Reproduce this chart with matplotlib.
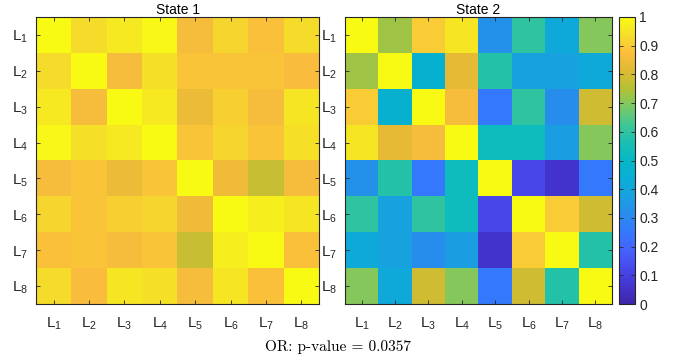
import numpy as np
import matplotlib
matplotlib.use("Agg")
import matplotlib.pyplot as plt
from matplotlib.colors import LinearSegmentedColormap

# labels and values
labels = [r'$\mathregular{L_%d}$' % i for i in range(1, 9)]

state1 = [
    [1.00, 0.93, 0.96, 0.99, 0.86, 0.92, 0.88, 0.93],
    [0.93, 1.00, 0.86, 0.94, 0.89, 0.89, 0.89, 0.87],
    [0.96, 0.86, 1.00, 0.96, 0.84, 0.91, 0.86, 0.95],
    [0.99, 0.94, 0.96, 1.00, 0.89, 0.92, 0.89, 0.94],
    [0.86, 0.89, 0.84, 0.89, 1.00, 0.85, 0.78, 0.86],
    [0.92, 0.89, 0.91, 0.92, 0.85, 1.00, 0.97, 0.95],
    [0.88, 0.89, 0.86, 0.89, 0.78, 0.97, 1.00, 0.88],
    [0.93, 0.87, 0.95, 0.94, 0.86, 0.95, 0.88, 1.00],
]

state2 = [
    [1.00, 0.73, 0.90, 0.95, 0.33, 0.60, 0.42, 0.70],
    [0.73, 1.00, 0.46, 0.83, 0.58, 0.38, 0.38, 0.42],
    [0.90, 0.46, 1.00, 0.86, 0.25, 0.60, 0.32, 0.79],
    [0.95, 0.83, 0.86, 1.00, 0.53, 0.53, 0.37, 0.70],
    [0.33, 0.58, 0.25, 0.53, 1.00, 0.12, 0.06, 0.25],
    [0.60, 0.38, 0.60, 0.53, 0.12, 1.00, 0.90, 0.79],
    [0.42, 0.38, 0.32, 0.37, 0.06, 0.90, 1.00, 0.58],
    [0.70, 0.42, 0.79, 0.70, 0.25, 0.79, 0.58, 1.00],
]

titles = ['State 1', 'State 2']
cbar_ticks = [0, 0.1, 0.2, 0.3, 0.4, 0.5, 0.6, 0.7, 0.8, 0.9, 1]
cbar_labels = ['0', '0.1', '0.2', '0.3', '0.4', '0.5', '0.6', '0.7', '0.8', '0.9', '1']
pval_text = 'OR: p-value = 0.0357'

# parula-like colormap
parula_pts = [
    (0.2422, 0.1504, 0.6603), (0.2676, 0.2052, 0.8148), (0.2809, 0.2875, 0.9305),
    (0.2710, 0.3860, 0.9898), (0.2066, 0.4743, 0.9926), (0.1600, 0.5500, 0.9300),
    (0.1000, 0.6300, 0.8800), (0.0400, 0.6800, 0.8400), (0.0200, 0.7200, 0.7800),
    (0.1000, 0.7500, 0.7000), (0.2500, 0.7800, 0.5800), (0.4700, 0.7900, 0.4000),
    (0.7000, 0.7600, 0.2100), (0.8700, 0.7300, 0.2000), (0.9900, 0.7400, 0.2400),
    (0.9600, 0.8700, 0.1600), (0.9769, 0.9839, 0.0805),
]
parula = LinearSegmentedColormap.from_list('parula', parula_pts)

plt.rcParams['font.family'] = 'Liberation Sans'
plt.rcParams['mathtext.fontset'] = 'custom'
plt.rcParams['mathtext.rm'] = 'Liberation Sans'
plt.rcParams['mathtext.it'] = 'Liberation Sans:italic'

edge = (0.15, 0.15, 0.15)
W, H = 676, 361
fig = plt.figure(figsize=(W / 100, H / 100), dpi=100)

boxes = [(36, 17, 283, 287), (345, 17, 267, 287)]
for k, (data, (x0, y0, w, h)) in enumerate(zip([state1, state2], boxes)):
    ax = fig.add_axes([x0 / W, 1 - (y0 + h) / H, w / W, h / H])
    im = ax.imshow(np.array(data), cmap=parula, vmin=0, vmax=1, aspect='auto',
                   interpolation='nearest')
    ax.set_xticks(range(8))
    ax.set_yticks(range(8))
    ax.set_xticklabels(labels, fontsize=11)
    ax.set_yticklabels(labels, fontsize=11)
    ax.tick_params(direction='in', top=True, right=True, length=3, width=0.6,
                   color=edge, labelcolor=edge)
    ax.tick_params(axis='x', pad=8)
    ax.tick_params(axis='y', pad=6)
    for s in ax.spines.values():
        s.set_color(edge)
        s.set_linewidth(0.8)
    ax.set_title(titles[k], fontsize=10, pad=2, color='black')

cax = fig.add_axes([619 / W, 1 - 304 / H, 16 / W, 287 / H])
cb = fig.colorbar(im, cax=cax)
cb.set_ticks(cbar_ticks)
cb.set_ticklabels(cbar_labels)
cax.tick_params(direction='in', length=3, width=0.6, labelsize=10, pad=3,
                color=edge, labelcolor=edge, left=True)
cb.outline.set_edgecolor(edge)
cb.outline.set_linewidth(0.8)

fig.text(338 / W, 1 - 347 / H, pval_text, ha='center', va='center',
         fontsize=11, family='cmr10')

fig.savefig('out.png', dpi=100)
